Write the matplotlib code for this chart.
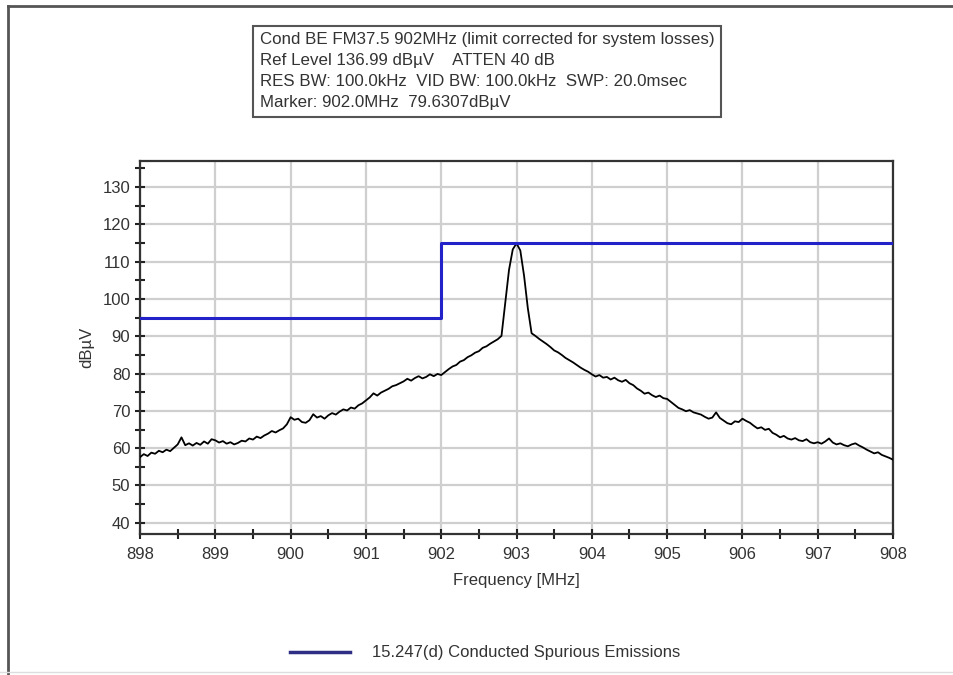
import numpy as np
import matplotlib.pyplot as plt
from matplotlib.lines import Line2D
from matplotlib.ticker import MultipleLocator

plt.rcParams['font.family'] = ['Liberation Sans', 'DejaVu Sans']

# sweep: 898-908 MHz, 0.05 MHz per point
freq = np.arange(898.0, 908.001, 0.05)
level = [
    57.6, 58.4, 57.9, 58.8, 58.5, 59.3, 58.9, 59.6, 59.2, 60.1, 61.0, 62.9, 60.8, 61.3, 60.7, 61.4, 60.9, 61.8, 61.2, 62.4,
    62.1, 61.5, 61.9, 61.2, 61.6, 61.0, 61.4, 62.0, 61.8, 62.6, 62.3, 63.1, 62.7, 63.4, 63.9, 64.6, 64.2, 64.8, 65.3, 66.4,
    68.3, 67.6, 67.9, 67.0, 66.8, 67.5, 69.1, 68.2, 68.6, 67.9, 68.8, 69.4, 69.0, 69.8, 70.4, 70.1, 70.9, 70.6, 71.5, 72.0,
    72.8, 73.6, 74.7, 74.1, 74.9, 75.4, 75.9, 76.6, 76.9, 77.4, 77.9, 78.6, 78.1, 78.8, 79.3, 78.7, 79.1, 79.8, 79.3, 79.9,
    79.6, 80.4, 81.2, 81.9, 82.3, 83.2, 83.6, 84.4, 84.9, 85.6, 86.0, 86.9, 87.3, 88.0, 88.6, 89.2, 90.1, 99.0, 107.8, 113.3,
    114.9, 113.0, 106.2, 97.5, 90.8, 90.1, 89.3, 88.6, 87.9, 87.1, 86.2, 85.7, 85.0, 84.2, 83.6, 83.0, 82.3, 81.6, 81.0, 80.5,
    79.8, 79.2, 79.6, 78.9, 79.1, 78.4, 78.9, 78.2, 77.8, 78.3, 77.4, 76.9, 76.0, 75.4, 74.6, 74.9, 74.2, 73.7, 74.1, 73.4,
    73.2, 72.4, 71.6, 70.8, 70.4, 69.9, 70.2, 69.6, 69.3, 69.0, 68.4, 67.9, 68.2, 69.6, 68.1, 67.4, 66.7, 66.4, 67.2, 67.0,
    67.9, 67.3, 66.8, 66.0, 65.3, 65.6, 64.9, 65.2, 64.1, 63.6, 62.9, 63.3, 62.6, 62.3, 62.7, 62.1, 61.9, 62.4, 61.6, 61.3,
    61.6, 61.2, 61.8, 62.6, 61.5, 61.0, 61.3, 60.8, 60.5, 61.0, 61.3, 60.7, 60.2, 59.6, 59.1, 58.6, 58.9, 58.2, 57.8, 57.4,
    56.9,
]

# 15.247(d) limit, stepped at 902 MHz
limit_freq = [898.0, 902.0, 902.0, 908.0]
limit_level = [95.0, 95.0, 115.0, 115.0]
limit_name = '15.247(d) Conducted Spurious Emissions'

header = ['Cond BE FM37.5 902MHz (limit corrected for system losses)',
          'Ref Level 136.99 dB\u00b5V    ATTEN 40 dB',
          'RES BW: 100.0kHz  VID BW: 100.0kHz  SWP: 20.0msec',
          'Marker: 902.0MHz  79.6307dB\u00b5V']

ref_level = 136.99

fig = plt.figure(figsize=(9.54, 6.75), dpi=100)
ax = fig.add_axes([0.1468, 0.2089, 0.7893, 0.5526])

ax.plot(freq, level, color='black', lw=1.3, zorder=3)
ax.plot(limit_freq, limit_level, color='#2222c8', lw=2.2, zorder=4)

ax.set_xlim(898, 908)
ax.set_ylim(ref_level - 100, ref_level)
ax.xaxis.set_major_locator(MultipleLocator(1))
ax.xaxis.set_minor_locator(MultipleLocator(0.5))
ax.yaxis.set_major_locator(MultipleLocator(10))
ax.yaxis.set_minor_locator(MultipleLocator(5))
ax.set_yticks(range(40, 131, 10))
ax.grid(True, which='major', color='#cfcfcf', lw=1.6, zorder=0)
ax.tick_params(which='both', direction='inout', length=7, width=1.5, colors='#222222',
               labelsize=12, labelcolor='#333333')
ax.tick_params(axis='x', pad=6)
for s in ax.spines.values():
    s.set_color('#333333')
    s.set_linewidth(1.6)

ax.set_xlabel('Frequency [MHz]', fontsize=12, color='#333333', labelpad=8)
ax.set_ylabel('dB\u00b5V', fontsize=12, color='#333333', labelpad=6)

# header box
fig.text(0.2725, 0.952, '\n'.join(header), fontsize=12.2, color='#333333',
         va='top', ha='left', linespacing=1.5,
         bbox=dict(boxstyle='square,pad=0.4', fc='white', ec='#555555', lw=1.5))

# legend below the plot
fig.add_artist(Line2D([0.304, 0.367], [0.034, 0.034], color='#2e2e84', lw=2.5))
fig.text(0.39, 0.034, limit_name, fontsize=12.0, color='#333333', va='center', ha='left')

# window frame
fig.add_artist(Line2D([0.0084, 1.0], [0.9915, 0.9915], color='#555555', lw=2))
fig.add_artist(Line2D([0.0084, 0.0084], [0.0, 0.9915], color='#555555', lw=2))
fig.add_artist(Line2D([0.0, 1.0], [0.004, 0.004], color='#dddddd', lw=1))

fig.savefig('out.png', dpi=100)
